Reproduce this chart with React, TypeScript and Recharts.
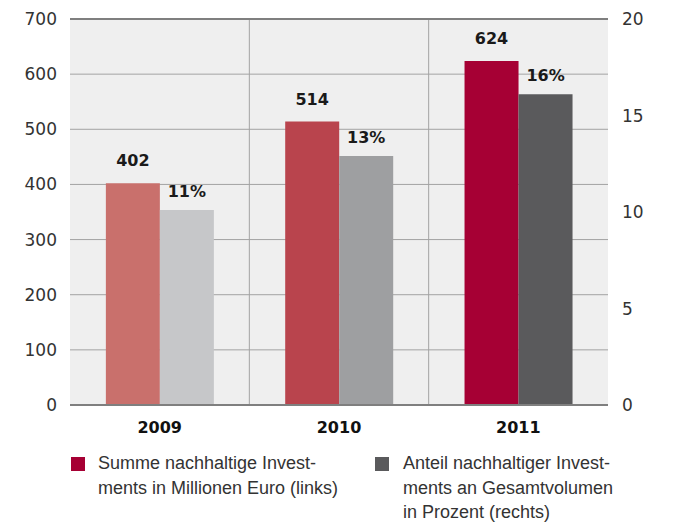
import React from 'react';
import { BarChart, Bar, XAxis, YAxis, CartesianGrid, Cell, LabelList, ReferenceLine } from 'recharts';

const years = ['2009', '2010', '2011'];
const sumValues = [402, 514, 624];
const shareValues = [10.1, 12.9, 16.1];
const sumLabels = ['402', '514', '624'];
const shareLabels = ['11%', '13%', '16%'];
const sumColors = ['#c9706c', '#b9444d', '#a60034'];
const shareColors = ['#c6c7c9', '#9e9fa1', '#5a5a5c'];
const leftTicks = [0, 100, 200, 300, 400, 500, 600, 700];
const rightTicks = [0, 5, 10, 15, 20];
const legendSum = 'Summe nachhaltige Invest-\nments in Millionen Euro (links)';
const legendShare = 'Anteil nachhaltiger Invest-\nments an Gesamtvolumen\nin Prozent (rechts)';

const data = years.map((year, i) => ({
  year,
  sum: sumValues[i],
  share: shareValues[i],
  sumLabel: sumLabels[i],
  shareLabel: shareLabels[i],
}));

const legendText: React.CSSProperties = {
  position: 'absolute',
  fontFamily: '"Liberation Sans", Arial, sans-serif',
  fontSize: 18,
  lineHeight: '24.5px',
  color: '#333',
  whiteSpace: 'pre',
};

export default function App() {
  return (
    <div style={{ position: 'absolute', left: 0, top: 0, width: 678, height: 523, background: '#fff' }}>
      <BarChart
        width={678}
        height={523}
        data={data}
        margin={{ top: 19, right: 0, bottom: 78, left: 0 }}
        barCategoryGap="20%"
        barGap={0}
      >
        <CartesianGrid
          yAxisId="left"
          fill="#efefef"
          fillOpacity={1}
          stroke="#a3a3a3"
          strokeWidth={1}
          verticalCoordinatesGenerator={({ offset }: any) => [
            offset.left + offset.width / 3,
            offset.left + (2 * offset.width) / 3,
          ]}
        />
        <XAxis
          dataKey="year"
          height={40}
          axisLine={{ stroke: '#7f7f7f', strokeWidth: 2 }}
          tickLine={false}
          tickSize={0}
          tickMargin={17}
          tick={{ fill: '#111', fontSize: 16, fontWeight: 'bold', fontFamily: '"DejaVu Sans", sans-serif' }}
        />
        <YAxis
          yAxisId="left"
          orientation="left"
          width={70}
          domain={[0, 700]}
          ticks={leftTicks}
          axisLine={false}
          tickLine={false}
          tickSize={0}
          tickMargin={13}
          tick={{ fill: '#333', fontSize: 17, fontFamily: '"DejaVu Sans", sans-serif' }}
        />
        <YAxis
          yAxisId="right"
          orientation="right"
          width={70}
          domain={[0, 20]}
          ticks={rightTicks}
          axisLine={false}
          tickLine={false}
          tickSize={0}
          tickMargin={14}
          tick={{ fill: '#333', fontSize: 17, fontFamily: '"DejaVu Sans", sans-serif' }}
        />
        <ReferenceLine yAxisId="left" y={700} stroke="#7f7f7f" strokeWidth={2} />
        <Bar yAxisId="left" dataKey="sum" isAnimationActive={false}>
          {data.map((d, i) => (
            <Cell key={d.year} fill={sumColors[i]} />
          ))}
          <LabelList
            dataKey="sumLabel"
            position="top"
            offset={17}
            fill="#1a1a1a"
            fontSize={16}
            fontWeight="bold"
            fontFamily='"DejaVu Sans", sans-serif'
          />
        </Bar>
        <Bar yAxisId="right" dataKey="share" isAnimationActive={false}>
          {data.map((d, i) => (
            <Cell key={d.year} fill={shareColors[i]} />
          ))}
          <LabelList
            dataKey="shareLabel"
            position="top"
            offset={13}
            fill="#1a1a1a"
            fontSize={16}
            fontWeight="bold"
            fontFamily='"DejaVu Sans", sans-serif'
          />
        </Bar>
      </BarChart>
      <div style={{ position: 'absolute', left: 71, top: 457, width: 14, height: 14, background: sumColors[2] }} />
      <div style={{ ...legendText, left: 98, top: 451 }}>{legendSum}</div>
      <div style={{ position: 'absolute', left: 375, top: 457, width: 14, height: 14, background: shareColors[2] }} />
      <div style={{ ...legendText, left: 403, top: 451 }}>{legendShare}</div>
    </div>
  );
}
